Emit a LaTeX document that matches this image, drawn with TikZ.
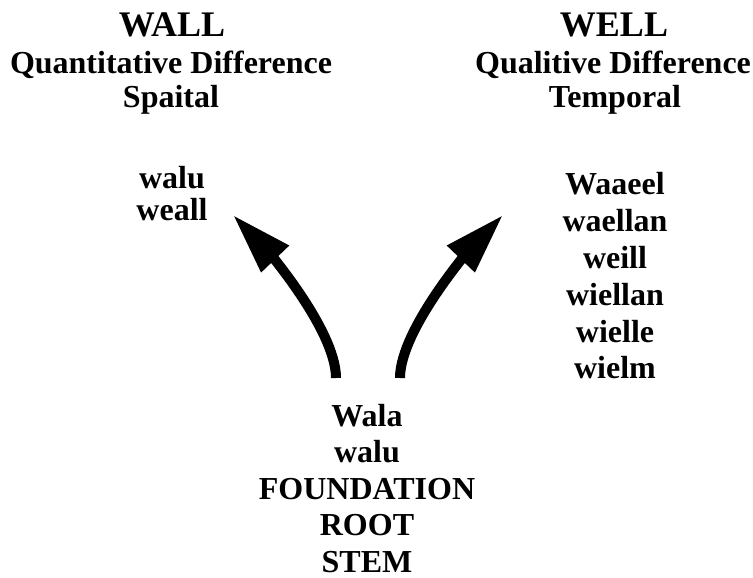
\documentclass[tikz,border=0pt]{standalone}
\usepackage{fontspec}
\setmainfont{Liberation Serif}
\usetikzlibrary{arrows.meta}
\tikzset{
  ttl/.style={font=\fontsize{36}{43}\selectfont\bfseries, anchor=base, inner sep=0pt},
  txt/.style={font=\fontsize{32}{38}\selectfont\bfseries, anchor=base, inner sep=0pt},
  bigarrow/.style={line width=10pt, -{Triangle[length=61pt,width=36pt]}}
}
\begin{document}
\begin{tikzpicture}[x=1pt,y=-1pt]
\useasboundingbox (0,0) rectangle (753,578);
% left header
\node[ttl] (wallT) at (172,37) {WALL};
\node[txt] (wallQ) at (171,74) {Quantitative Difference};
\node[txt] (wallS) at (171,107) {Spaital};
% right header
\node[ttl] (wellT) at (614,37) {WELL};
\node[txt] (wellQ) at (613,74) {Qualitive Difference};
\node[txt] (wellS) at (615,107) {Temporal};
% left list
\node[txt] (l1) at (172,188) {walu};
\node[txt] (l2) at (172,220) {weall};
% right list
\node[txt] (r1) at (615,194) {Waaeel};
\node[txt] (r2) at (615,231) {waellan};
\node[txt] (r3) at (615,268) {weill};
\node[txt] (r4) at (615,305) {wiellan};
\node[txt] (r5) at (615,342) {wielle};
\node[txt] (r6) at (615,378) {wielm};
% root
\node[txt] (b1) at (367,426) {Wala};
\node[txt] (b2) at (367,462) {walu};
\node[txt] (b3) at (367,499) {FOUNDATION};
\node[txt] (b4) at (367,535) {ROOT};
\node[txt, text depth=0pt] (b5) at (367,572) {STEM};
% arrows
\coordinate (ls) at (336,378);
\coordinate (lt) at (233,215);
\coordinate (rs) at (400,378);
\coordinate (rt) at (503,215);
\draw[bigarrow] (ls) .. controls (336,328) and (260.6,243.8) .. (lt);
\draw[bigarrow] (rs) .. controls (400,328) and (475.4,243.8) .. (rt);
\end{tikzpicture}
\end{document}
